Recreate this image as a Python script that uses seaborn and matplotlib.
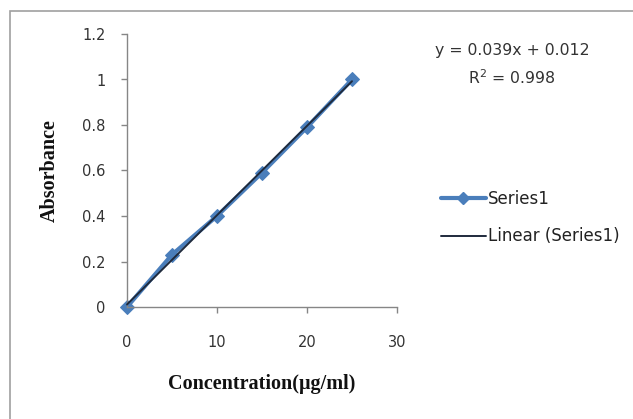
import matplotlib
matplotlib.use("Agg")
import matplotlib.pyplot as plt
import seaborn as sns
import numpy as np
import pandas as pd
from matplotlib.patches import Rectangle
from matplotlib.lines import Line2D

conc = [0, 5, 10, 15, 20, 25]
absorb = [0, 0.23, 0.40, 0.59, 0.79, 1.0]
x_ticks = [0, 10, 20, 30]
y_ticks = [0, 0.2, 0.4, 0.6, 0.8, 1, 1.2]
y_tick_labels = ["0", "0.2", "0.4", "0.6", "0.8", "1", "1.2"]
equation = "y = 0.039x + 0.012"
r2_text = "R$^2$ = 0.998"

sns.set_theme(style="white")
plt.rcParams["font.family"] = ["DejaVu Sans"]
plt.rcParams["mathtext.default"] = "regular"

df = pd.DataFrame({"conc": conc, "abs": absorb})
slope, intercept = np.polyfit(conc, absorb, 1)
fit_df = pd.DataFrame({"conc": [min(conc), max(conc)]})
fit_df["abs"] = slope * fit_df["conc"] + intercept

fig = plt.figure(figsize=(6.33, 4.19), dpi=100)
ax = fig.add_axes([127 / 633, 1 - 307 / 419, 270 / 633, 273 / 419])

blue = "#4a7ebb"
navy = "#1f2a3c"
sns.lineplot(data=df, x="conc", y="abs", ax=ax, color=blue, lw=3.0,
             marker="D", markersize=7.5, markeredgecolor=blue, zorder=2, clip_on=False)
sns.lineplot(data=fit_df, x="conc", y="abs", ax=ax, color=navy, lw=1.4, zorder=3, clip_on=False)

ax.set_xlim(0, 30)
ax.set_ylim(0, 1.2)
ax.set_xticks(x_ticks)
ax.set_yticks(y_ticks)
ax.set_yticklabels(y_tick_labels)
for s in ["top", "right"]:
    ax.spines[s].set_visible(False)
for s in ["left", "bottom"]:
    ax.spines[s].set_color("#868686")
    ax.spines[s].set_linewidth(1.0)
ax.tick_params(axis="both", which="both", direction="out", length=4.3, width=1.0,
               color="#868686", labelsize=10.5, labelcolor="#333333", left=True, bottom=True)
ax.tick_params(axis="x", pad=16)
ax.tick_params(axis="y", pad=11)

ax.set_xlabel("Concentration(μg/ml)", family=["Liberation Serif", "DejaVu Serif"],
              fontweight="bold", fontsize=14.5, labelpad=17, color="#111111")
ax.set_ylabel("Absorbance", family=["Liberation Serif", "DejaVu Serif"],
              fontweight="bold", fontsize=14.5, labelpad=16, color="#111111")

fig.text(512 / 633, 1 - 51 / 419, equation, ha="center", va="center", fontsize=11.3, color="#333333")
fig.text(512 / 633, 1 - 78 / 419, r2_text, ha="center", va="center", fontsize=11.3, color="#333333")

handles = [
    Line2D([0], [0], color=blue, lw=3.0, marker="D", markersize=6.5, markeredgecolor=blue),
    Line2D([0], [0], color=navy, lw=1.4),
]
fig.legend(handles, ["Series1", "Linear (Series1)"], loc="center left",
           bbox_to_anchor=(0.696, 0.48), frameon=False, fontsize=12,
           handlelength=2.7, handletextpad=0.12, labelspacing=1.15,
           borderaxespad=0.0, borderpad=0.0, labelcolor="#222222")

fig.patches.append(Rectangle((10 / 633, -0.2), 1.5, 1 - 11 / 419 + 0.2, transform=fig.transFigure,
                             fill=False, edgecolor="#a0a0a0", lw=1.2))

fig.savefig("out.png", dpi=100)
